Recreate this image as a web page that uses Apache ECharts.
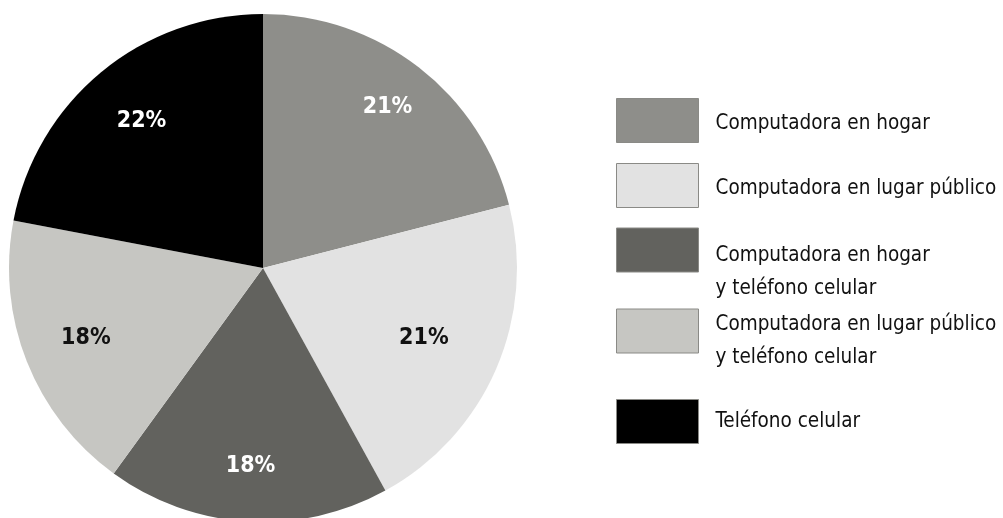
<!DOCTYPE html>
<html>
<head>
<meta charset="utf-8">
<script src="https://cdn.jsdelivr.net/npm/echarts@6/dist/echarts.min.js"></script>
<style>
  html, body { margin: 0; padding: 0; background: #ffffff; }
  #chart { width: 1003px; height: 518px; }
</style>
</head>
<body>
<div id="chart"></div>
<script>
// Categories (legend text, in drawing order clockwise from the top)
const categories = [
  'Computadora en hogar',
  'Computadora en lugar público',
  'Computadora en hogar\ny teléfono celular',
  'Computadora en lugar público\ny teléfono celular',
  'Teléfono celular'
];
// Share of each category, in percent
const shares = [21, 21, 18, 18, 22];

// Styling
const FONT = "'DejaVu Sans Condensed', 'Liberation Sans Narrow', 'Arial Narrow', sans-serif";
const sliceColors = ['#8e8e8a', '#e2e2e2', '#62625e', '#c6c6c2', '#000000'];
const labelColors = ['#ffffff', '#111111', '#ffffff', '#111111', '#ffffff'];
const labelRadius = [0.80, 0.69, 0.78, 0.75, 0.75];
// swatch top edge of each legend row, and how far its text drops below the swatch centre
const swatchTops = [98, 163, 228, 309, 399];
const textDrop = [3, 3, 22, 10, 0];

const center = [263, 268];
const radius = 254;
const total = shares.reduce((a, b) => a + b, 0);
const SWATCH_H = 44;
const LINE_H = 33;
const LEGEND_PAD = 5;

const chart = echarts.init(document.getElementById('chart'), null, { renderer: 'canvas' });

const data = categories.map((name, i) => ({
  name: name,
  value: shares[i],
  itemStyle: { color: sliceColors[i] },
  label: { color: labelColors[i] }
}));

// one legend block per category so each row can sit at its own height
const legends = categories.map((name, i) => {
  const lines = name.split('\n').length;
  const spacer = textDrop[i] * 2;
  const blockH = lines * LINE_H + spacer;
  const half = Math.max(SWATCH_H, blockH) / 2;
  return {
    data: [name],
    orient: 'vertical',
    left: 611,
    top: swatchTops[i] + SWATCH_H / 2 - half - LEGEND_PAD,
    itemWidth: 82,
    itemHeight: SWATCH_H,
    icon: 'rect',
    selectedMode: false,
    itemStyle: { borderColor: '#8a8a86', borderWidth: 1 },
    formatter: spacer > 0 ? '{sp| }\n' + name : name,
    textStyle: {
      fontFamily: FONT,
      fontSize: 20.5,
      lineHeight: LINE_H,
      color: '#111111',
      padding: [0, 0, 0, 12],
      rich: { sp: { fontSize: 1, lineHeight: spacer || 1 } }
    }
  };
});

chart.setOption({
  animation: false,
  backgroundColor: '#ffffff',
  legend: legends,
  series: [{
    type: 'pie',
    center: center,
    radius: [0, radius],
    startAngle: 90,
    clockwise: true,
    data: data,
    label: {
      show: true,
      position: 'inside',
      formatter: '{c}%',
      fontFamily: FONT,
      fontWeight: 'bold',
      fontSize: 23
    },
    labelLine: { show: false },
    emphasis: { disabled: true },
    // put each percentage along the slice's bisector at a chosen depth
    labelLayout: function (p) {
      const i = p.dataIndex;
      let before = 0;
      for (let k = 0; k < i; k++) before += shares[k];
      const mid = ((before + shares[i] / 2) / total) * Math.PI * 2;
      const r = radius * labelRadius[i];
      return {
        x: center[0] + r * Math.sin(mid),
        y: center[1] - r * Math.cos(mid),
        align: 'center',
        verticalAlign: 'middle'
      };
    }
  }]
});
</script>
</body>
</html>
